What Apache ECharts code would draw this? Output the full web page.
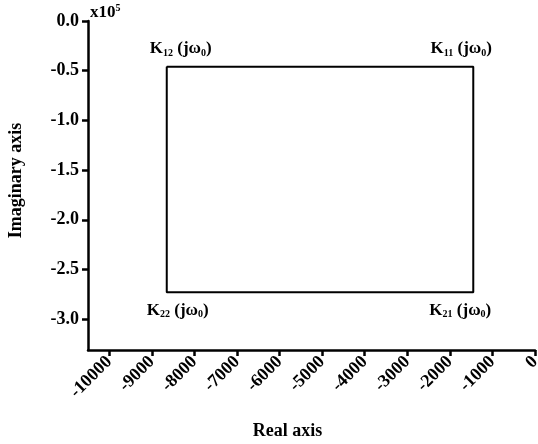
<!DOCTYPE html>
<html><head><meta charset="utf-8">
<script src="https://cdn.jsdelivr.net/npm/echarts@6/dist/echarts.min.js"></script>
<style>html,body{margin:0;padding:0;background:#fff}#c{width:538px;height:444px}</style>
</head><body><div id="c"></div>
<script>
// Corner points of the region (real part, imaginary part in units of 1e5)
const cornerNames = ['K12', 'K11', 'K21', 'K22'];
const realValues = [-8650, -1450, -1450, -8650];
const imagValues = [-0.46, -0.46, -2.73, -2.73];
const xTicks = [-10000, -9000, -8000, -7000, -6000, -5000, -4000, -3000, -2000, -1000, 0];
const yTicks = [0.0, -0.5, -1.0, -1.5, -2.0, -2.5, -3.0];

const FONT = '"Liberation Serif", "Times New Roman", serif';
const rich = {
  k: {fontFamily: FONT, fontWeight: 'bold', fontSize: 17, color: '#000'},
  s: {fontFamily: FONT, fontWeight: 'bold', fontSize: 10, color: '#000', padding: [9, 0, 0, 0]}
};
const labelText = {
  K12: '{k|K}{s|12}{k| (jω}{s|0}{k|)}',
  K11: '{k|K}{s|11}{k| (jω}{s|0}{k|)}',
  K21: '{k|K}{s|21}{k| (jω}{s|0}{k|)}',
  K22: '{k|K}{s|22}{k| (jω}{s|0}{k|)}'
};
const labelOffset = {K12: [14, -18], K11: [-12, -18], K21: [-13, 18], K22: [11, 18]};

const loop = realValues.map((x, i) => [x, imagValues[i]]);
loop.push(loop[0]);

const corners = realValues.map((x, i) => ({
  value: [x, imagValues[i]],
  label: {
    show: true, position: 'inside', formatter: labelText[cornerNames[i]], color: '#000',
    textBorderWidth: 0, opacity: 1,
    rich: rich, offset: labelOffset[cornerNames[i]]
  }
}));

const axisText = {fontFamily: FONT, fontWeight: 'bold', fontSize: 18, color: '#000'};

const chart = echarts.init(document.getElementById('c'));
chart.setOption({
  animation: false,
  backgroundColor: '#fff',
  grid: {left: 88, right: 3, top: 21, bottom: 94, containLabel: false, outerBoundsMode: 'none'},
  xAxis: {
    type: 'value', min: -10500, max: 0, position: 'bottom',
    axisLine: {show: true, onZero: false, lineStyle: {color: '#000', width: 2.5}},
    axisTick: {show: true, length: 6, lineStyle: {color: '#000', width: 2.5}, customValues: xTicks},
    splitLine: {show: false},
    axisLabel: Object.assign({rotate: 45, margin: 9, customValues: xTicks,
      formatter: v => String(v)}, axisText),
    name: 'Real axis', nameLocation: 'middle', nameGap: 72,
    nameTextStyle: Object.assign({padding: [0, 48, 0, 0]}, axisText)
  },
  yAxis: {
    type: 'value', min: -3.31, max: 0, position: 'left',
    axisLine: {show: true, onZero: false, lineStyle: {color: '#000', width: 2.5}},
    axisTick: {show: true, length: 6, lineStyle: {color: '#000', width: 2.5}, customValues: yTicks},
    splitLine: {show: false},
    axisLabel: Object.assign({margin: 9, customValues: yTicks, formatter: v => v.toFixed(1)}, axisText),
    name: 'Imaginary axis', nameLocation: 'middle', nameGap: 63, nameRotate: 90,
    nameTextStyle: Object.assign({padding: [0, 0, 0, 10]}, axisText)
  },
  graphic: [{
    type: 'text', left: 90, top: 3,
    style: {
      text: '{k|x10}{p|5}',
      rich: {
        k: {fontFamily: FONT, fontWeight: 'bold', fontSize: 17, color: '#000'},
        p: {fontFamily: FONT, fontWeight: 'bold', fontSize: 10, color: '#000', padding: [0, 0, 9, 0]}
      }
    }
  }],
  series: [
    {type: 'line', data: loop, showSymbol: false, symbol: 'none',
      lineStyle: {color: '#000', width: 2}, z: 3},
    {type: 'scatter', data: corners, symbolSize: 1, itemStyle: {color: '#000', opacity: 1}, z: 4}
  ]
});
</script>
</body></html>
